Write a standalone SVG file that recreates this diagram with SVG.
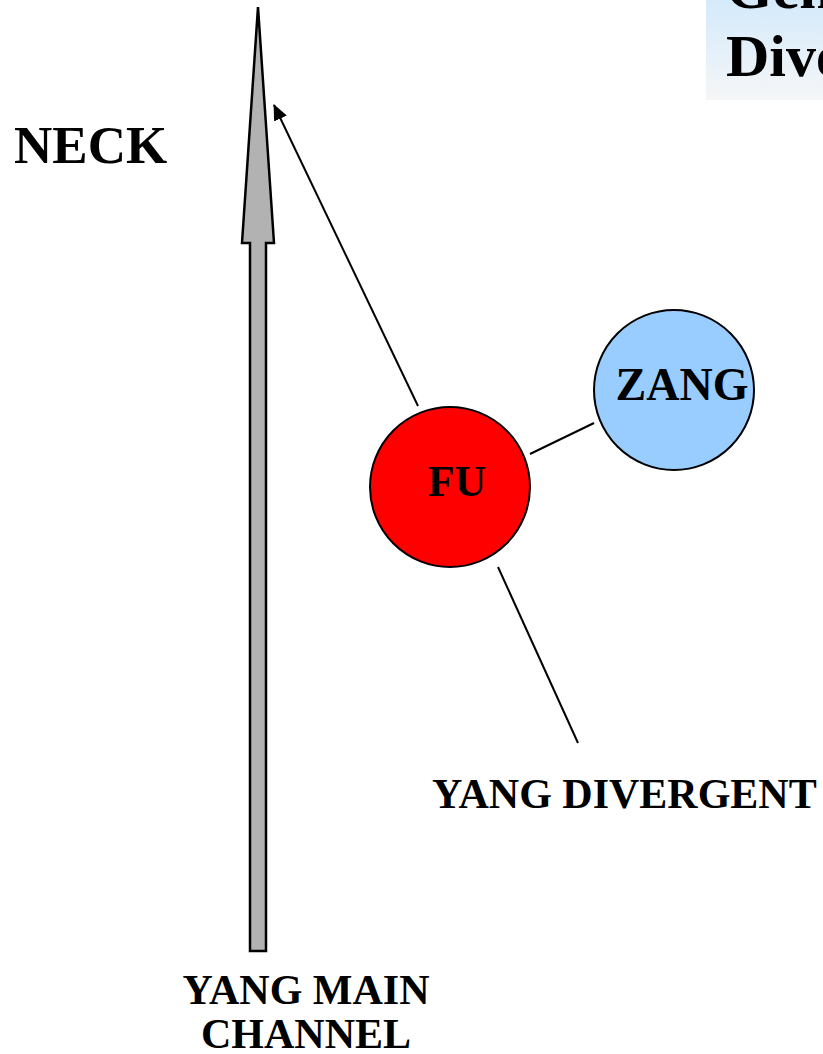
<svg xmlns="http://www.w3.org/2000/svg" width="823" height="1054" viewBox="0 0 823 1054">
  <defs>
    <linearGradient id="titleGrad" x1="0" y1="0" x2="0" y2="1">
      <stop offset="0" stop-color="#d4eafb"/>
      <stop offset="1" stop-color="#f5f6f7"/>
    </linearGradient>
    <marker id="arrow" markerWidth="16" markerHeight="14" refX="15" refY="7" orient="auto" markerUnits="userSpaceOnUse">
      <path d="M0,0 L16,7 L0,14 Z" fill="#000"/>
    </marker>
  </defs>
  <style>
    text { font-family: "Liberation Serif", "Times New Roman", serif; font-weight: bold; fill: #000; }
    .conn { stroke: #000; stroke-width: 2; fill: none; }
    .node { stroke: #000; stroke-width: 2; }
  </style>
  <rect width="823" height="1054" fill="#fff"/>

  <g id="title">
    <rect x="706" y="0" width="117" height="100" fill="url(#titleGrad)"/>
    <text x="726" y="8" font-size="60">General</text>
    <text x="726" y="76" font-size="60">Divergent</text>
  </g>

  <g id="main-channel">
    <path d="M250,951 L250,243 L242,243 L258,7 L274,243 L266,243 L266,951 Z" fill="#b2b2b2" stroke="#000" stroke-width="2.5" stroke-linejoin="miter"/>
  </g>

  <g id="connectors">
    <line class="conn" x1="418" y1="406" x2="274" y2="105" marker-end="url(#arrow)"/>
    <line class="conn" x1="530" y1="454" x2="594" y2="423"/>
    <line class="conn" x1="498" y1="567" x2="578" y2="743"/>
  </g>

  <g id="fu">
    <circle class="node" cx="450" cy="487" r="80" fill="#ff0000"/>
    <text x="457" y="496" font-size="44" text-anchor="middle">FU</text>
  </g>

  <g id="zang">
    <circle class="node" cx="674" cy="390" r="80" fill="#99ccff"/>
    <text x="682" y="400" font-size="46" text-anchor="middle">ZANG</text>
  </g>

  <g id="neck">
    <text x="14" y="163" font-size="53">NECK</text>
  </g>

  <g id="yang-divergent">
    <text x="432" y="808" font-size="42">YANG DIVERGENT</text>
  </g>

  <g id="yang-main-channel">
    <text x="306" y="1004" font-size="42" text-anchor="middle">YANG MAIN</text>
    <text x="306" y="1048" font-size="42" text-anchor="middle">CHANNEL</text>
  </g>
</svg>
